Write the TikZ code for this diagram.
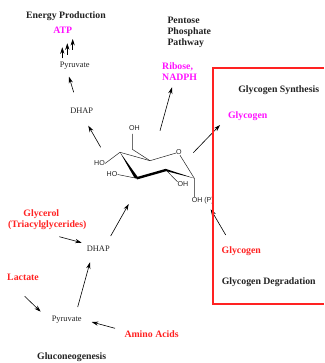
\documentclass[tikz,border=0pt]{standalone}
\usepackage{fontspec}
\setmainfont{Liberation Serif}
\newfontfamily\atomfont{Liberation Sans}
\usetikzlibrary{arrows.meta,positioning,calc}
\definecolor{acc}{HTML}{FF2222}
\definecolor{mag}{HTML}{FF11FF}
\definecolor{ink}{HTML}{222222}
\tikzset{
  head/.style={inner sep=0pt,text=ink,font=\fontsize{9.8}{11}\selectfont\bfseries},
  rlab/.style={head,text=acc},
  mlab/.style={head,text=mag},
  met/.style={inner sep=0pt,text=ink,font=\fontsize{8.4}{10}\selectfont},
  atom/.style={inner sep=0pt,text=ink,font=\fontsize{7.1}{9}\atomfont},
  ar/.style={-{Stealth[length=6.5pt,width=4.2pt]},line width=0.6pt,draw=black},
  bond/.style={line width=0.5pt,draw=ink},
}

\begin{document}
\begin{tikzpicture}[x=1pt,y=-1pt]
  \useasboundingbox (0,0) rectangle (324,363);
  % upper labels
  \node[head] (energy) at (66,15.7) {Energy Production};
  \node[mlab] (atp) at (62.7,30.7) {ATP};
  \node[met] (pyrtop) at (74.7,66) {Pyruvate};
  \node[met] (dhaptop) at (81.7,111) {DHAP};
  \node[head,anchor=west] (pentose) at (167.3,20) {Pentose};
  \node[head,anchor=west] (phosphate) at (167.3,32) {Phosphate};
  \node[head,anchor=west] (pathway) at (167.3,43) {Pathway};
  \node[mlab,anchor=west] (ribose) at (162,67) {Ribose,};
  \node[mlab,anchor=west] (nadph) at (162,77.5) {NADPH};
  % box labels
  \node[head] (synth) at (278.7,89.7) {Glycogen Synthesis};
  \node[mlab] (glyup) at (247.7,115.7) {Glycogen};
  \node[rlab] (glydown) at (241.3,250.7) {Glycogen};
  \node[head] (degrad) at (268.7,281.7) {Glycogen Degradation};
  % lower labels
  \node[rlab] (glycerol) at (41.3,213.7) {Glycerol};
  \node[rlab] (triacyl) at (47.3,225.3) {(Triacylglycerides)};
  \node[met] (dhaplow) at (98.3,249) {DHAP};
  \node[rlab] (lactate) at (23,277) {Lactate};
  \node[met] (pyrlow) at (66.7,319.3) {Pyruvate};
  \node[rlab,anchor=west] (amino) at (124.3,334) {Amino Acids};
  \node[head] (gluco) at (71.7,356.7) {Gluconeogenesis};
  % ring
  \coordinate (c5) at (120,152.3);
  \coordinate (c4) at (150,160.7);
  \coordinate (c6) at (132.3,149.3);
  \coordinate (c6up) at (132.3,134);
  \coordinate (c3) at (136.7,178.3);
  \coordinate (c2) at (166,170);
  \coordinate (c1) at (194.3,178.3);
  \node[atom] (ringo) at (179,152.5) {O};
  \node[atom] (oh6) at (134.5,128.5) {OH};
  \node[atom] (ho4) at (99.5,163.5) {HO};
  \node[atom] (ho3) at (112,174.5) {HO};
  \node[atom] (oh2) at (183,184.5) {OH};
  \node[atom] (ohp) at (202.8,200.5) {OH (P)};
  \draw[bond] (c5) -- (c4) -- (ringo.190);
  \draw[bond] (c4) -- (c6) -- (c6up);
  \draw[bond] (ringo.-70) -- (c1) -- (c1 |- ohp.north);
  \draw[bond] (c5) -- (ho4.east);
  \draw[bond] (c3) -- (ho3.east);
  \draw[bond] (c2) -- (oh2.north west);
  \fill[black] (c5) -- ($(c3)+(2.2,0.4)$) -- ($(c3)+(-2.2,-0.4)$) -- cycle;
  \draw[black,line width=2.4pt,line join=round] (c3) -- (c2);
  \fill[black] ($(c2)+(-0.5,-1.2)$) -- (c1) -- ($(c2)+(0.5,1.2)$) -- cycle;
  % arrows
  \draw[ar] ([shift={(-12.4,-7.7)}]pyrtop.center) -- ([shift={(-12.4,-18.7)}]pyrtop.center);
  \draw[ar] ([shift={(-7.4,-11)}]pyrtop.center) -- ([shift={(-7.4,-22.7)}]pyrtop.center);
  \draw[ar] ([shift={(-2,-16)}]pyrtop.center) -- ([shift={(-2,-27)}]pyrtop.center);
  \draw[ar] ([shift={(-8,-18.7)}]dhaptop.center) -- ([shift={(-5.7,10.7)}]pyrtop.center);
  \draw[ar] ([shift={(1.2,-16.2)}]ho4.center) -- ([shift={(6.6,14.7)}]dhaptop.center);
  \draw[ar] ([shift={(25.5,2.2)}]oh6.center) -- ([shift={(10,9.8)}]nadph.west);
  \draw[ar] ([shift={(14.3,0.2)}]ringo.center) -- ([shift={(-27.7,9.3)}]glyup.center);
  \draw[ar] ([shift={(-15.6,-15.7)}]glydown.center) -- ([shift={(7.9,8.8)}]ohp.center);
  \draw[ar] ([shift={(12.4,-13)}]dhaplow.center) -- ([shift={(-8,25.7)}]c3);
  \draw[ar] ([shift={(12,11.4)}]triacyl.center) -- ([shift={(-16.6,-6.3)}]dhaplow.center);
  \draw[ar] ([shift={(11,-12.3)}]pyrlow.center) -- ([shift={(-8.3,13.3)}]dhaplow.center);
  \draw[ar] ([shift={(1.7,19.3)}]lactate.center) -- ([shift={(-26,-7.6)}]pyrlow.center);
  \draw[ar] ([shift={(-9.3,-5.7)}]amino.west) -- ([shift={(25,2.7)}]pyrlow.center);
  % box on top
  \draw[acc,line width=1.5pt] (324,68) -- (213,68) -- (213,304) -- (324,304);
\end{tikzpicture}
\end{document}
